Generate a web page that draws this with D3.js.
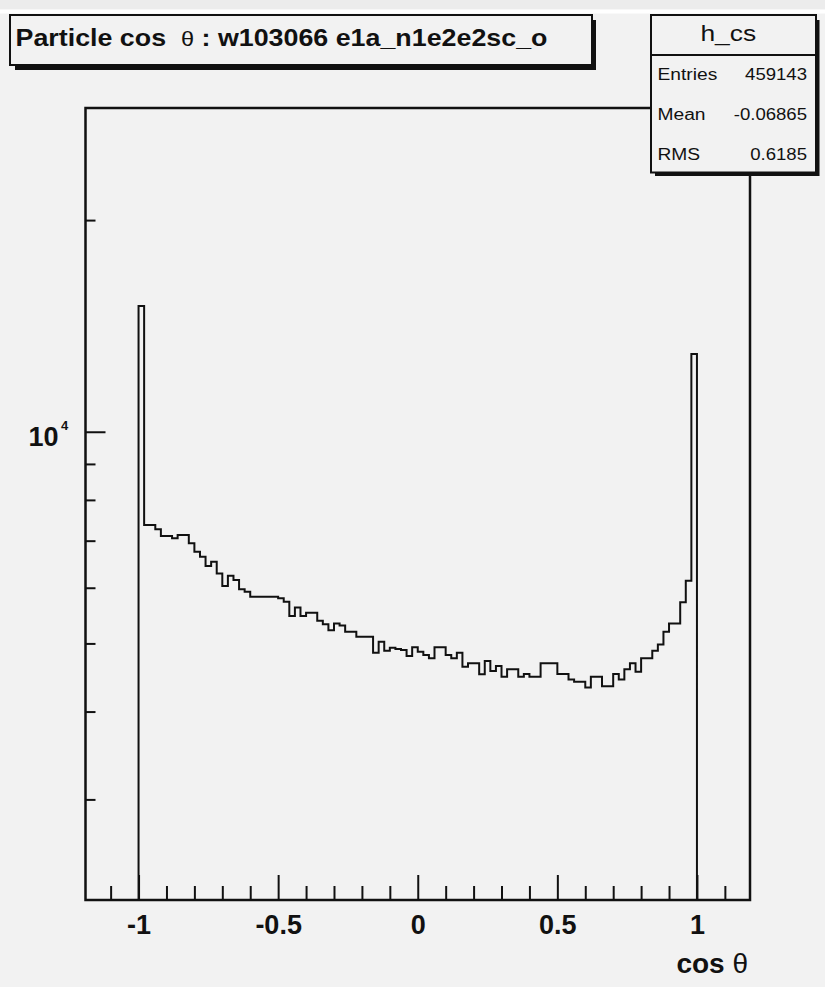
<!DOCTYPE html>
<html>
<head>
<meta charset="utf-8">
<script src="https://cdn.jsdelivr.net/npm/d3@7"></script>
<style>
  body { margin: 0; background: #f2f2f2; }
  svg { display: block; font-family: "Liberation Sans", Arial, sans-serif; }
</style>
</head>
<body>
<div id="chart"></div>
<script>
// histogram h_cs, 100 bins between -1 and 1 (counts)
const binLo = -1;
const binHi = 1;
const counts = [
  15090, 7367, 7367, 7264, 7106, 7106, 7053, 7130, 7130, 6939,
  6750, 6641, 6442, 6533, 6289, 6033, 6240, 6152, 5968, 5921,
  5825, 5825, 5825, 5825, 5825, 5795, 5731, 5468, 5626, 5468,
  5527, 5527, 5384, 5326, 5222, 5338, 5303, 5193, 5193, 5109,
  5109, 5109, 4850, 5026, 4882, 4930, 4909, 4893, 4798, 4936,
  4866, 4813, 4761, 4936, 4936, 4813, 4761, 4850, 4632, 4684,
  4684, 4518, 4719, 4567, 4643, 4482, 4593, 4593, 4482, 4522,
  4482, 4482, 4684, 4684, 4684, 4522, 4522, 4444, 4409, 4409,
  4329, 4482, 4482, 4347, 4347, 4522, 4444, 4593, 4684, 4556,
  4761, 4761, 4882, 4983, 5193, 5338, 5338, 5720, 6138, 12898
];

const xMajorTicks = [-1, -0.5, 0, 0.5, 1];
const xMinorTicks = [-1.1, -0.9, -0.8, -0.7, -0.6, -0.4, -0.3, -0.2, -0.1,
  0.1, 0.2, 0.3, 0.4, 0.6, 0.7, 0.8, 0.9, 1.1];
const yMajorTicks = [10000];
const yMinorTicks = [3000, 4000, 5000, 6000, 7000, 8000, 9000, 20000];

const titleParts = ["Particle cos  ", "θ", " : w103066 e1a_n1e2e2sc_o"];
const statsName = "h_cs";
const statsLabels = ["Entries", "Mean", "RMS"];
const statsValues = ["459143", "-0.06865", "0.6185"];

const W = 825, H = 989;
const ink = "#111";
const frame = { left: 85.5, right: 750, top: 108, bottom: 900 };

const svg = d3.select("#chart").append("svg")
  .attr("width", W)
  .attr("height", H);

// canvas edges
svg.append("rect").attr("width", W).attr("height", H).attr("fill", "#f2f2f2");
svg.append("rect").attr("width", W).attr("height", 9.5).attr("fill", "#ececec");
svg.append("rect").attr("y", 9.5).attr("width", W).attr("height", 4).attr("fill", "#fff");
svg.append("rect").attr("y", 987).attr("width", W).attr("height", 2).attr("fill", "#fff");

const x = d3.scaleLinear().domain([-1.19, 1.19]).range([frame.left, frame.right]);
const y = d3.scaleLog().domain([2158, 28870]).range([frame.bottom, frame.top]);

function stretch(sel, k) {
  sel.each(function() {
    const n = this.getComputedTextLength();
    this.setAttribute("textLength", n * k);
    this.setAttribute("lengthAdjust", "spacingAndGlyphs");
  });
}

// frame
svg.append("rect")
  .attr("x", frame.left).attr("y", frame.top)
  .attr("width", frame.right - frame.left)
  .attr("height", frame.bottom - frame.top)
  .attr("fill", "none")
  .attr("stroke", ink)
  .attr("stroke-width", 2.5);

// x axis ticks
const gxMinor = svg.append("g")
  .attr("transform", `translate(0,${frame.bottom})`)
  .call(d3.axisBottom(x).tickValues(xMinorTicks).tickSize(-14).tickFormat(""));
gxMinor.select(".domain").remove();

const gxMajor = svg.append("g")
  .attr("transform", `translate(0,${frame.bottom})`)
  .call(d3.axisBottom(x).tickValues(xMajorTicks).tickSize(-25).tickPadding(15)
    .tickFormat(d => String(d)));
gxMajor.select(".domain").remove();
gxMajor.selectAll("text")
  .style("font-size", "27px")
  .style("font-weight", "bold")
  .attr("fill", ink);

// y axis ticks
const gyMinor = svg.append("g")
  .attr("transform", `translate(${frame.left},0)`)
  .call(d3.axisLeft(y).tickValues(yMinorTicks).tickSize(-10).tickFormat(""));
gyMinor.select(".domain").remove();

const gyMajor = svg.append("g")
  .attr("transform", `translate(${frame.left},0)`)
  .call(d3.axisLeft(y).tickValues(yMajorTicks).tickSize(-20).tickFormat(""));
gyMajor.select(".domain").remove();
svg.selectAll(".tick line").attr("stroke", ink).attr("stroke-width", 2);

yMajorTicks.forEach(v => {
  svg.append("text")
    .attr("x", 58.5).attr("y", y(v) + 14)
    .attr("text-anchor", "end")
    .style("font-size", "27px").style("font-weight", "bold")
    .attr("fill", ink)
    .text("10");
  svg.append("text")
    .attr("x", 61).attr("y", y(v) - 1.5)
    .style("font-size", "13px").style("font-weight", "bold")
    .attr("fill", ink)
    .text(String(Math.round(Math.log10(v))));
});

// x axis title
const xTitle = svg.append("text")
  .attr("x", 748).attr("y", 973.3)
  .attr("text-anchor", "end")
  .style("font-size", "28px")
  .style("white-space", "pre")
  .attr("fill", ink);
xTitle.append("tspan").style("font-weight", "bold").text("cos ");
xTitle.append("tspan").text("θ");

// histogram outline
const binW = (binHi - binLo) / counts.length;
const pts = [[binLo, y.domain()[0]]];
counts.forEach((c, i) => pts.push([binLo + i * binW, c]));
pts.push([binHi, counts[counts.length - 1]]);
pts.push([binHi, y.domain()[0]]);

svg.append("path")
  .datum(pts)
  .attr("fill", "none")
  .attr("stroke", ink)
  .attr("stroke-width", 2)
  .attr("d", d3.line()
    .x(d => x(d[0]))
    .y(d => y(d[1]))
    .curve(d3.curveStepAfter));

// title box
svg.append("rect")
  .attr("x", 15).attr("y", 20).attr("width", 581).attr("height", 50)
  .attr("fill", ink);
svg.append("rect")
  .attr("x", 10).attr("y", 15).attr("width", 582).attr("height", 50)
  .attr("fill", "#f2f2f2").attr("stroke", ink).attr("stroke-width", 2);

const title = svg.append("text")
  .attr("x", 15.5).attr("y", 45.7)
  .style("font-size", "24px").style("font-weight", "bold")
  .style("white-space", "pre")
  .attr("fill", ink);
title.append("tspan").text(titleParts[0]);
title.append("tspan").style("font-weight", "normal").style("font-size", "21px").text(titleParts[1]);
title.append("tspan").text(titleParts[2]);
title.attr("textLength", 532).attr("lengthAdjust", "spacingAndGlyphs");

// stats box
svg.append("rect")
  .attr("x", 655).attr("y", 20).attr("width", 164.5).attr("height", 156)
  .attr("fill", ink);
svg.append("rect")
  .attr("x", 651).attr("y", 15).attr("width", 165).attr("height", 157.5)
  .attr("fill", "#f2f2f2").attr("stroke", ink).attr("stroke-width", 2);
svg.append("line")
  .attr("x1", 651).attr("x2", 816).attr("y1", 55).attr("y2", 55)
  .attr("stroke", ink).attr("stroke-width", 2);

svg.append("text")
  .attr("x", 728.3).attr("y", 40.7)
  .attr("text-anchor", "middle")
  .style("font-size", "22px")
  .attr("fill", ink)
  .text(statsName)
  .call(stretch, 1.2);

const rowY = [80, 120, 160];
svg.selectAll(".stat-label")
  .data(statsLabels)
  .enter().append("text")
  .attr("class", "stat-label")
  .attr("x", 657.5)
  .attr("y", (d, i) => rowY[i])
  .style("font-size", "16px")
  .attr("fill", ink)
  .text(d => d)
  .call(stretch, 1.2);

svg.selectAll(".stat-value")
  .data(statsValues)
  .enter().append("text")
  .attr("class", "stat-value")
  .attr("x", 807)
  .attr("y", (d, i) => rowY[i])
  .attr("text-anchor", "end")
  .style("font-size", "16px")
  .attr("fill", ink)
  .text(d => d)
  .call(stretch, 1.16);
</script>
</body>
</html>
